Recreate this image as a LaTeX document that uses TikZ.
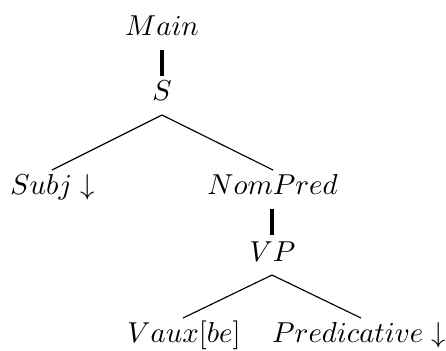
\documentclass[tikz,border=0pt]{standalone}
\usetikzlibrary{calc}
\begin{document}
\begin{tikzpicture}[x=0.347pt,y=-0.347pt,
  lbl/.style={anchor=base,inner sep=0pt,outer sep=0pt},
  branch/.style={line width=0.4pt},
  unary/.style={line width=1.15pt}]
\useasboundingbox (0,0) rectangle (446,350);
\node[lbl] (Main) at (162,35.5) {$Main$};
\node[lbl] (S) at (162,100) {$S$};
\node[lbl] (Subj) at (52.5,194.5) {$Subj \downarrow$};
\node[lbl] (NomPred) at (272.5,194.5) {$NomPred$};
\node[lbl] (VP) at (272.5,261.5) {$VP$};
\node[lbl] (Vaux) at (184,342.5) {$Vaux[be]$};
\node[lbl] (Pred) at (359,342.5) {$Predicative \downarrow$};
\draw[unary] ($(Main.base)+(0,14.5)$) -- ($(S.base)+(0,-24)$);
\draw[branch] ($(S.base)+(0,15)$) -- ($(Subj.base)+(-0.5,-24.5)$);
\draw[branch] ($(S.base)+(0,15)$) -- ($(NomPred.base)+(0.5,-24.5)$);
\draw[unary] ($(NomPred.base)+(-0.5,14.5)$) -- ($(VP.base)+(-0.5,-26.5)$);
\draw[branch] ($(VP.base)+(-0.5,13.5)$) -- ($(Vaux.base)+(-1,-24.5)$);
\draw[branch] ($(VP.base)+(-0.5,13.5)$) -- ($(Pred.base)+(2,-24.5)$);
\end{tikzpicture}
\end{document}
